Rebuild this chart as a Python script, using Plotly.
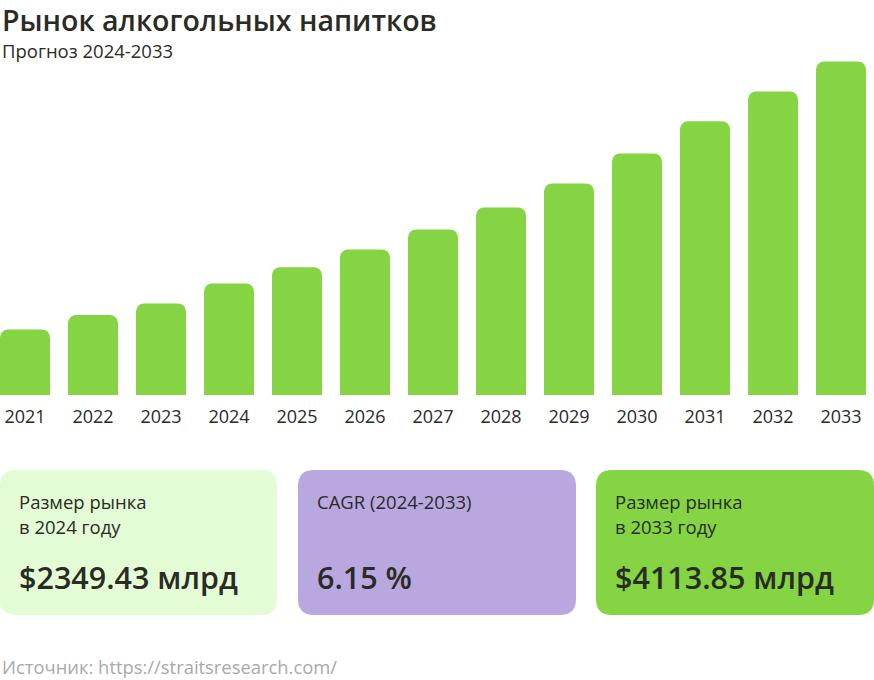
import plotly.graph_objects as go

# data
years = ["2021", "2022", "2023", "2024", "2025", "2026", "2027",
         "2028", "2029", "2030", "2031", "2032", "2033"]
market_size = [1984, 2098, 2190, 2349.43, 2479, 2620, 2779,
               2953, 3144, 3383, 3639, 3875, 4113.85]

title_text = "Рынок алкогольных напитков"
subtitle_text = "Прогноз 2024-2033"
card_labels = [["Размер рынка", "в 2024 году"], ["CAGR (2024-2033)"], ["Размер рынка", "в 2033 году"]]
card_values = ["$2349.43 млрд", "6.15 %", "$4113.85 млрд"]
source_text = "Источник: https://straitsresearch.com/"

W, H = 874, 680
T, B = 50, 285          # plot area runs from y=50 to y=395 px
PH = H - T - B
FONT = "Open Sans"
DARK = "#2b2b26"
GREEN = "#84d444"


def px(x):
    return x / W


def py(y):
    return (H - B - y) / PH


def rounded_box(x0, y0, x1, y1, r):
    # rounded rectangle in paper coords, given pixels
    rx, ry = r / W, r / PH
    a, b, c, d = px(x0), px(x1), py(y0), py(y1)
    return (f"M {a+rx},{c} L {b-rx},{c} Q {b},{c} {b},{c-ry} "
            f"L {b},{d+ry} Q {b},{d} {b-rx},{d} L {a+rx},{d} "
            f"Q {a},{d} {a},{d+ry} L {a},{c-ry} Q {a},{c} {a+rx},{c} Z")


def note(text, x, y, size, color=DARK, weight=400):
    return dict(text=text, x=px(x), y=py(y), xref="paper", yref="paper",
                xanchor="left", yanchor="middle", showarrow=False, borderpad=0,
                font=dict(family=FONT, size=size, color=color, weight=weight))


fig = go.Figure()
fig.add_trace(go.Bar(x=years, y=market_size, marker=dict(color=GREEN, line=dict(width=0)),
                     hoverinfo="x+y"))

card_x = [(0, 277), (298, 576), (596, 874)]
card_colors = ["#e3fcd5", "#b9a8e0", GREEN]
shapes = []
annotations = []
for (x0, x1), col, labels, val in zip(card_x, card_colors, card_labels, card_values):
    shapes.append(dict(type="path", path=rounded_box(x0, 470, x1, 615, 16),
                       xref="paper", yref="paper", fillcolor=col, line=dict(width=0), layer="below"))
    for i, lab in enumerate(labels):
        annotations.append(note(lab, x0 + 18, 501 + 25 * i, 18.5))
    annotations.append(note(val, x0 + 18, 577, 30.5, weight=600))

annotations.append(note(title_text, 1, 20, 28.5, weight=600))
annotations.append(note(subtitle_text, 1, 50, 18.5))
annotations.append(note(source_text, 1, 666, 18.4, color="#a9a9a9"))

fig.update_layout(
    width=W, height=H,
    margin=dict(l=0, r=0, t=T, b=B),
    plot_bgcolor="white", paper_bgcolor="white",
    bargap=0.265, barcornerradius=8,
    showlegend=False,
    xaxis=dict(type="category", range=[-0.3676, 12.485], showgrid=False, zeroline=False,
               showline=False, ticks="outside", ticklen=5, tickcolor="rgba(0,0,0,0)",
               tickfont=dict(family=FONT, size=18, color=DARK)),
    yaxis=dict(range=[1463, 4205], visible=False),
    shapes=shapes, annotations=annotations,
)

# the page body has a default 8px margin; drop it so the figure sits at the corner
fig.write_html("out.html", config={"displayModeBar": False},
               post_script="document.body.style.margin='0';")
